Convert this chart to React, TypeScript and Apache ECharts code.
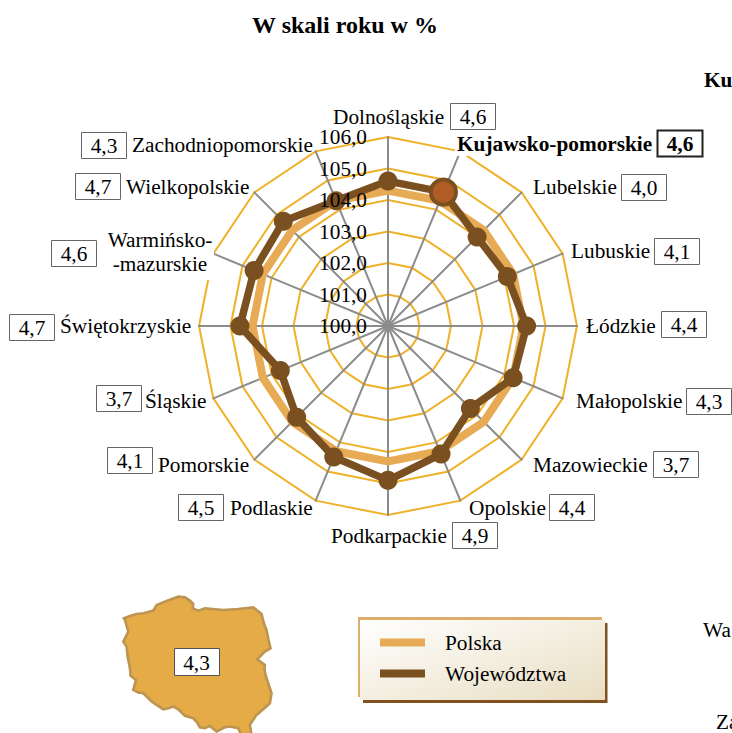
import React, { useEffect, useRef } from "react";
import * as echarts from "echarts";

const titleText = "W skali roku w %";
const regions = ["Dolnośląskie", "Kujawsko-pomorskie", "Lubelskie", "Lubuskie", "Łódzkie", "Małopolskie", "Mazowieckie", "Opolskie", "Podkarpackie", "Podlaskie", "Pomorskie", "Śląskie", "Świętokrzyskie", "Warmińsko-\n-mazurskie", "Wielkopolskie", "Zachodniopomorskie"];
const voivodeshipValues = [104.6, 104.6, 104.0, 104.1, 104.4, 104.3, 103.7, 104.4, 104.9, 104.5, 104.1, 103.7, 104.7, 104.6, 104.7, 104.3];
const polandValues = [104.3, 104.3, 104.3, 104.3, 104.3, 104.3, 104.3, 104.3, 104.3, 104.3, 104.3, 104.3, 104.3, 104.3, 104.3, 104.3];
const highlightedRegion = 1;
const polandLabel = "4,3";
const seriesNames = ["Polska", "Województwa"];
const croppedNeighbourTexts = [
  { text: "Ku", x: 704, y: 80, bold: true },
  { text: "Wa", x: 703, y: 630, bold: false },
  { text: "Za", x: 716, y: 722, bold: false },
];

// text left, text middle, box left, box top
const labelLayout = [
  [333, 117, 450, 103], [457, 144, 657, 130], [533, 187, 621, 174], [571, 251, 654, 238],
  [586, 326, 661, 311], [576, 401, 686, 388], [533, 465, 653, 451], [469, 508, 549, 494],
  [331, 536, 452, 522], [230, 508, 178, 494], [158, 465, 107, 447], [145, 401, 96, 385],
  [60, 326, 9, 314], [160, 252, 51, 240], [126, 187, 75, 173], [132, 145, 81, 132],
];

const polandOutline = "M42 85L60 78L80 72L100 70L130 62L140 45L170 33L205 20L225 22L240 32L250 42L248 55L265 62L285 55L340 60L385 57L430 52L455 72L462 100L470 120L476 150L482 175L465 185L442 208L465 225L464 240L467 255L475 280L485 310L480 340L460 358L440 375L420 405L425 436L395 436L385 415L360 410L345 412L320 425L300 408L285 415L270 412L262 398L250 385L225 378L205 358L190 350L175 355L160 358L140 345L125 335L110 320L100 310L85 308L70 300L78 270L62 258L60 235L53 200L50 170L40 155L55 125L45 90Z";
echarts.graphic.registerShape("polandShape", echarts.graphic.extendPath(polandOutline, {}));

const SERIF = '"Liberation Serif", "Times New Roman", serif';
const FONT_SIZE = 21.3;
const commaFixed = (v: number) => v.toFixed(1).replace(".", ",");

// ECharts lays radar axes out anticlockwise from the top; the picture runs clockwise.
const axisOrder = regions.map((_, i) => (i === 0 ? 0 : regions.length - i));
const inAxisOrder = (values: number[]) => axisOrder.map((i) => values[i]);

const regionGraphics = regions.flatMap((name, i) => {
  const [tx, ty, bx, by] = labelLayout[i];
  const bold = i === highlightedRegion;
  const twoLines = name.includes("\n");
  const out: any[] = [];
  if (bold) out.push({ type: "rect", z: 9, shape: { x: 455, y: 130, width: 200, height: 26 }, style: { fill: "#fff" } });
  if (twoLines) out.push({ type: "rect", z: 9, shape: { x: 104, y: 228, width: 110, height: 52 }, style: { fill: "#fff" } });
  out.push({
    type: "text", z: 10,
    style: { x: tx, y: ty, text: name, fill: "#000", font: `${bold ? "bold " : ""}${FONT_SIZE}px ${SERIF}`, align: twoLines ? "center" : "left", verticalAlign: "middle", lineHeight: 24 },
  });
  out.push({ type: "rect", z: 10, shape: { x: bx + 0.5, y: by + 0.5, width: 45, height: 26 }, style: { fill: "#fff", stroke: bold ? "#222" : "#666", lineWidth: bold ? 2 : 1 } });
  out.push({
    type: "text", z: 11,
    style: { x: bx + 23, y: by + 14, text: commaFixed(voivodeshipValues[i] - 100), fill: "#000", font: `${bold ? "bold " : ""}${FONT_SIZE}px ${SERIF}`, align: "center", verticalAlign: "middle" },
  });
  return out;
});

export default function App() {
  const ref = useRef<HTMLDivElement>(null);
  useEffect(() => {
    document.body.style.margin = "0";
    const chart = echarts.init(ref.current!, undefined, { renderer: "svg" });
    const names = axisOrder.map((i) => regions[i]);
    const baseGraphics = [
      { type: "rect", z: 5, shape: { x: 363, y: 623, width: 244.5, height: 80 }, style: { fill: "#7F5220" } },
      { type: "rect", z: 6, shape: { x: 358, y: 617, width: 244, height: 80 }, style: { fill: "#DDAE6B" } },
      {
        type: "rect", z: 7, shape: { x: 360, y: 620, width: 245, height: 80 },
        style: { fill: new echarts.graphic.LinearGradient(0, 0, 1, 1, [{ offset: 0, color: "#FFFFFF" }, { offset: 1, color: "#E9DEC3" }]) },
      },
      { type: "polandShape", z: 5, x: 110, y: 590, scaleX: 1 / 3, scaleY: 1 / 3, style: { fill: "#E5AB47", stroke: "#BD9552", lineWidth: 8 } },
      { type: "rect", z: 6, shape: { x: 174.5, y: 648.5, width: 45, height: 27 }, style: { fill: "#fff", stroke: "#555", lineWidth: 1 } },
      { type: "text", z: 7, style: { x: 196.5, y: 662.5, text: polandLabel, fill: "#000", font: `${FONT_SIZE}px ${SERIF}`, align: "center", verticalAlign: "middle" } },
      ...croppedNeighbourTexts.map((t) => ({
        type: "text", z: 7,
        style: { x: t.x, y: t.y, text: t.text, fill: "#000", font: `${t.bold ? "bold " : ""}${FONT_SIZE}px ${SERIF}`, align: "left", verticalAlign: "middle" },
      })),
      ...regionGraphics,
    ];
    chart.setOption({
      animation: false,
      title: { text: titleText, left: 340, top: 8, textAlign: "center", textStyle: { fontFamily: SERIF, fontSize: 24, fontWeight: "bold", color: "#000" } },
      radar: [
        {
          center: [388, 326], radius: 189, startAngle: 90, splitNumber: 6, shape: "polygon", z: 1,
          indicator: names.map((name) => ({ name, min: 100, max: 106 })),
          axisName: { show: false },
          splitArea: { show: false },
          splitLine: { lineStyle: { color: "#EFB127", width: 2 } },
          axisLine: { lineStyle: { color: "#8C8C8C", width: 2 } },
          axisTick: { show: false },
          axisLabel: { show: false },
        },
        {
          center: [388, 326], radius: 189, startAngle: 90, splitNumber: 6, shape: "polygon", z: 6,
          indicator: names.map((name, i) => ({
            name, min: 100, max: 106,
            axisLabel: { show: i === 0, margin: 21, formatter: (v: number) => commaFixed(v), fontFamily: SERIF, fontSize: FONT_SIZE, color: "#000", padding: [3, 0, 0, 0] },
          })),
          axisName: { show: false },
          splitArea: { show: false },
          splitLine: { show: false },
          axisLine: { show: false },
          axisTick: { show: false },
        },
      ],
      legend: {
        left: 375, top: 627, orient: "vertical", itemWidth: 45, itemHeight: 8, itemGap: 10, icon: "rect", z: 8,
        data: seriesNames,
        textStyle: { fontFamily: SERIF, fontSize: FONT_SIZE, color: "#000", padding: [0, 0, 0, 15] },
      },
      graphic: baseGraphics,
      series: [
        {
          type: "radar", radarIndex: 0, z: 2,
          data: [
            { name: seriesNames[0], value: inAxisOrder(polandValues), symbol: "none", lineStyle: { color: "#E8AB55", width: 8, join: "miter" }, itemStyle: { color: "#E8AB55" } },
            { name: seriesNames[1], value: inAxisOrder(voivodeshipValues), symbol: "circle", symbolSize: 19, lineStyle: { color: "#7B5020", width: 7.5 }, itemStyle: { color: "#7B5020", borderWidth: 0 } },
          ],
        },
      ],
    });
    // Highlighted point: position taken from the radar's own scale.
    const radarCoord = (chart as any).getModel().getComponent("radar", 0).coordinateSystem;
    const [hx, hy] = radarCoord.dataToPoint(voivodeshipValues[highlightedRegion], axisOrder.indexOf(highlightedRegion));
    chart.setOption({
      graphic: [...baseGraphics, { type: "circle", z: 4, shape: { cx: hx, cy: hy, r: 12.5 }, style: { fill: "#B05C25", stroke: "#7B5020", lineWidth: 4 } }],
    });
    return () => chart.dispose();
  }, []);
  return <div ref={ref} style={{ position: "absolute", left: 0, top: 0, width: 732, height: 733, overflow: "hidden" }} />;
}
